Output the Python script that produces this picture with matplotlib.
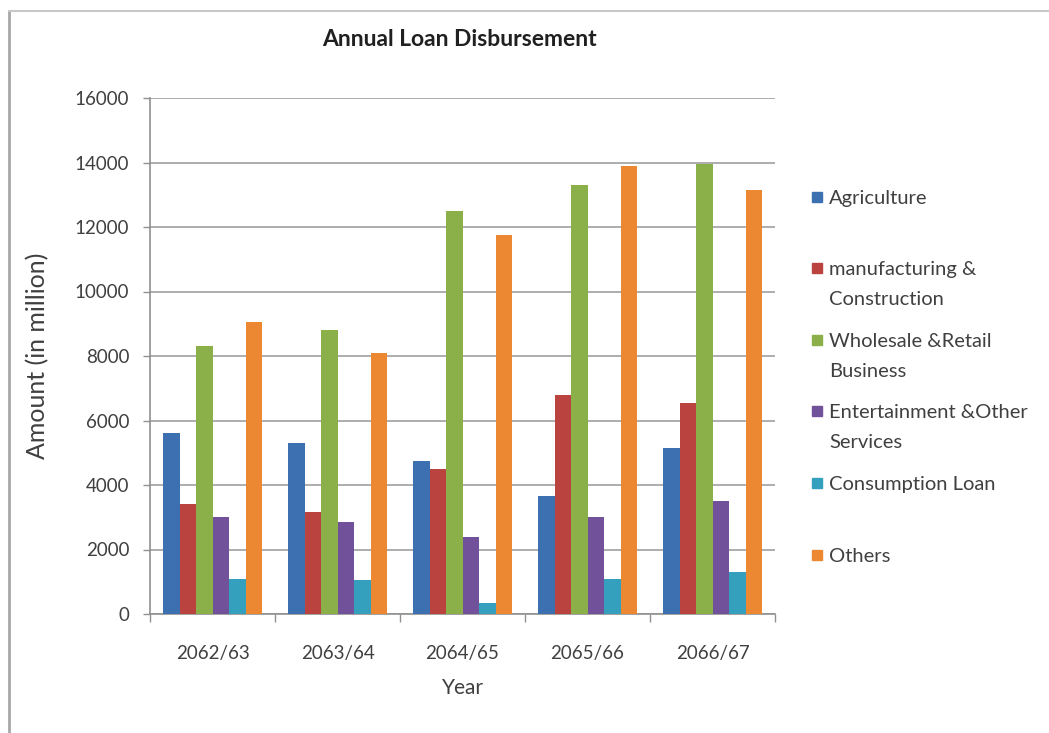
import matplotlib
matplotlib.use("Agg")
import matplotlib.pyplot as plt
import numpy as np
from matplotlib.lines import Line2D
from matplotlib.patches import Rectangle

plt.rcParams['font.family'] = ['Lato', 'DejaVu Sans']

years = ['2062/63', '2063/64', '2064/65', '2065/66', '2066/67']
sectors = ['Agriculture', 'manufacturing &\nConstruction', 'Wholesale &Retail\nBusiness',
           'Entertainment &Other\nServices', 'Consumption Loan', 'Others']

agriculture = [5600, 5300, 4750, 3650, 5150]
manufacturing = [3400, 3150, 4500, 6800, 6550]
wholesale = [8300, 8800, 12500, 13300, 13950]
entertainment = [3000, 2850, 2400, 3000, 3500]
consumption = [1100, 1050, 330, 1100, 1300]
others = [9050, 8100, 11750, 13900, 13150]

series = [agriculture, manufacturing, wholesale, entertainment, consumption, others]
colors = ['#3C70B0', '#BA4340', '#8CB049', '#71519A', '#35A0BD', '#EC8832']

W, H = 1049, 733
fig = plt.figure(figsize=(W / 100, H / 100), dpi=100)
ax = fig.add_axes([150 / W, 1 - 614 / H, (775 - 150) / W, (614 - 98) / H])

x = np.arange(len(years))
bw = 0.132
for i, (vals, c) in enumerate(zip(series, colors)):
    ax.bar(x + (i - 2.5) * bw, vals, width=bw, color=c, zorder=3)

ax.set_xlim(-0.5, len(years) - 0.5)
ax.set_ylim(0, 16000)
ax.set_yticks(np.arange(0, 16001, 2000))
ax.tick_params(axis='y', labelsize=13.5, colors='#404040', length=5, width=1, pad=10)
ax.yaxis.set_tick_params(color='#909090')
ax.set_xticks(x)
ax.set_xticklabels(years, fontsize=13.5, color='#404040')
ax.tick_params(axis='x', length=0, pad=22)
# boundary ticks between year groups
ax.set_xticks(np.arange(-0.5, len(years), 1), minor=True)
ax.tick_params(axis='x', which='minor', length=6, color='#909090', width=1)

ax.grid(axis='y', color='#A0A0A0', linewidth=1.2, zorder=0)
for s in ['top', 'right']:
    ax.spines[s].set_visible(False)
for s in ['left', 'bottom']:
    ax.spines[s].set_color('#909090')
    ax.spines[s].set_linewidth(1.2)

ax.set_ylabel('Amount (in million)', fontsize=18, color='#404040', labelpad=18)
ax.set_xlabel('Year', fontsize=15, color='#404040', labelpad=12)
fig.text(459 / W, 1 - 40 / H, 'Annual Loan Disbursement', fontsize=16.5, fontweight='bold',
         color='#202020', ha='center', va='center')

# legend on the right
for i, (label, c) in enumerate(zip(sectors, colors)):
    yc = 197 + i * 71.5
    fig.add_artist(Rectangle((812 / W, 1 - (yc + 5) / H), 10 / W, 10 / H,
                             transform=fig.transFigure, color=c))
    fig.text(829 / W, 1 - (yc - 7) / H, label, fontsize=14.5, color='#404040',
             va='top', ha='left', linespacing=1.92)

# outer chart frame
fig.add_artist(Line2D([9 / W, 9 / W], [0, 1 - 11 / H], transform=fig.transFigure,
                      color='#A8A8A8', linewidth=2))
fig.add_artist(Line2D([9 / W, 1], [1 - 11 / H, 1 - 11 / H], transform=fig.transFigure,
                      color='#C8C8C8', linewidth=1.5))

fig.savefig('out.png', dpi=100)
